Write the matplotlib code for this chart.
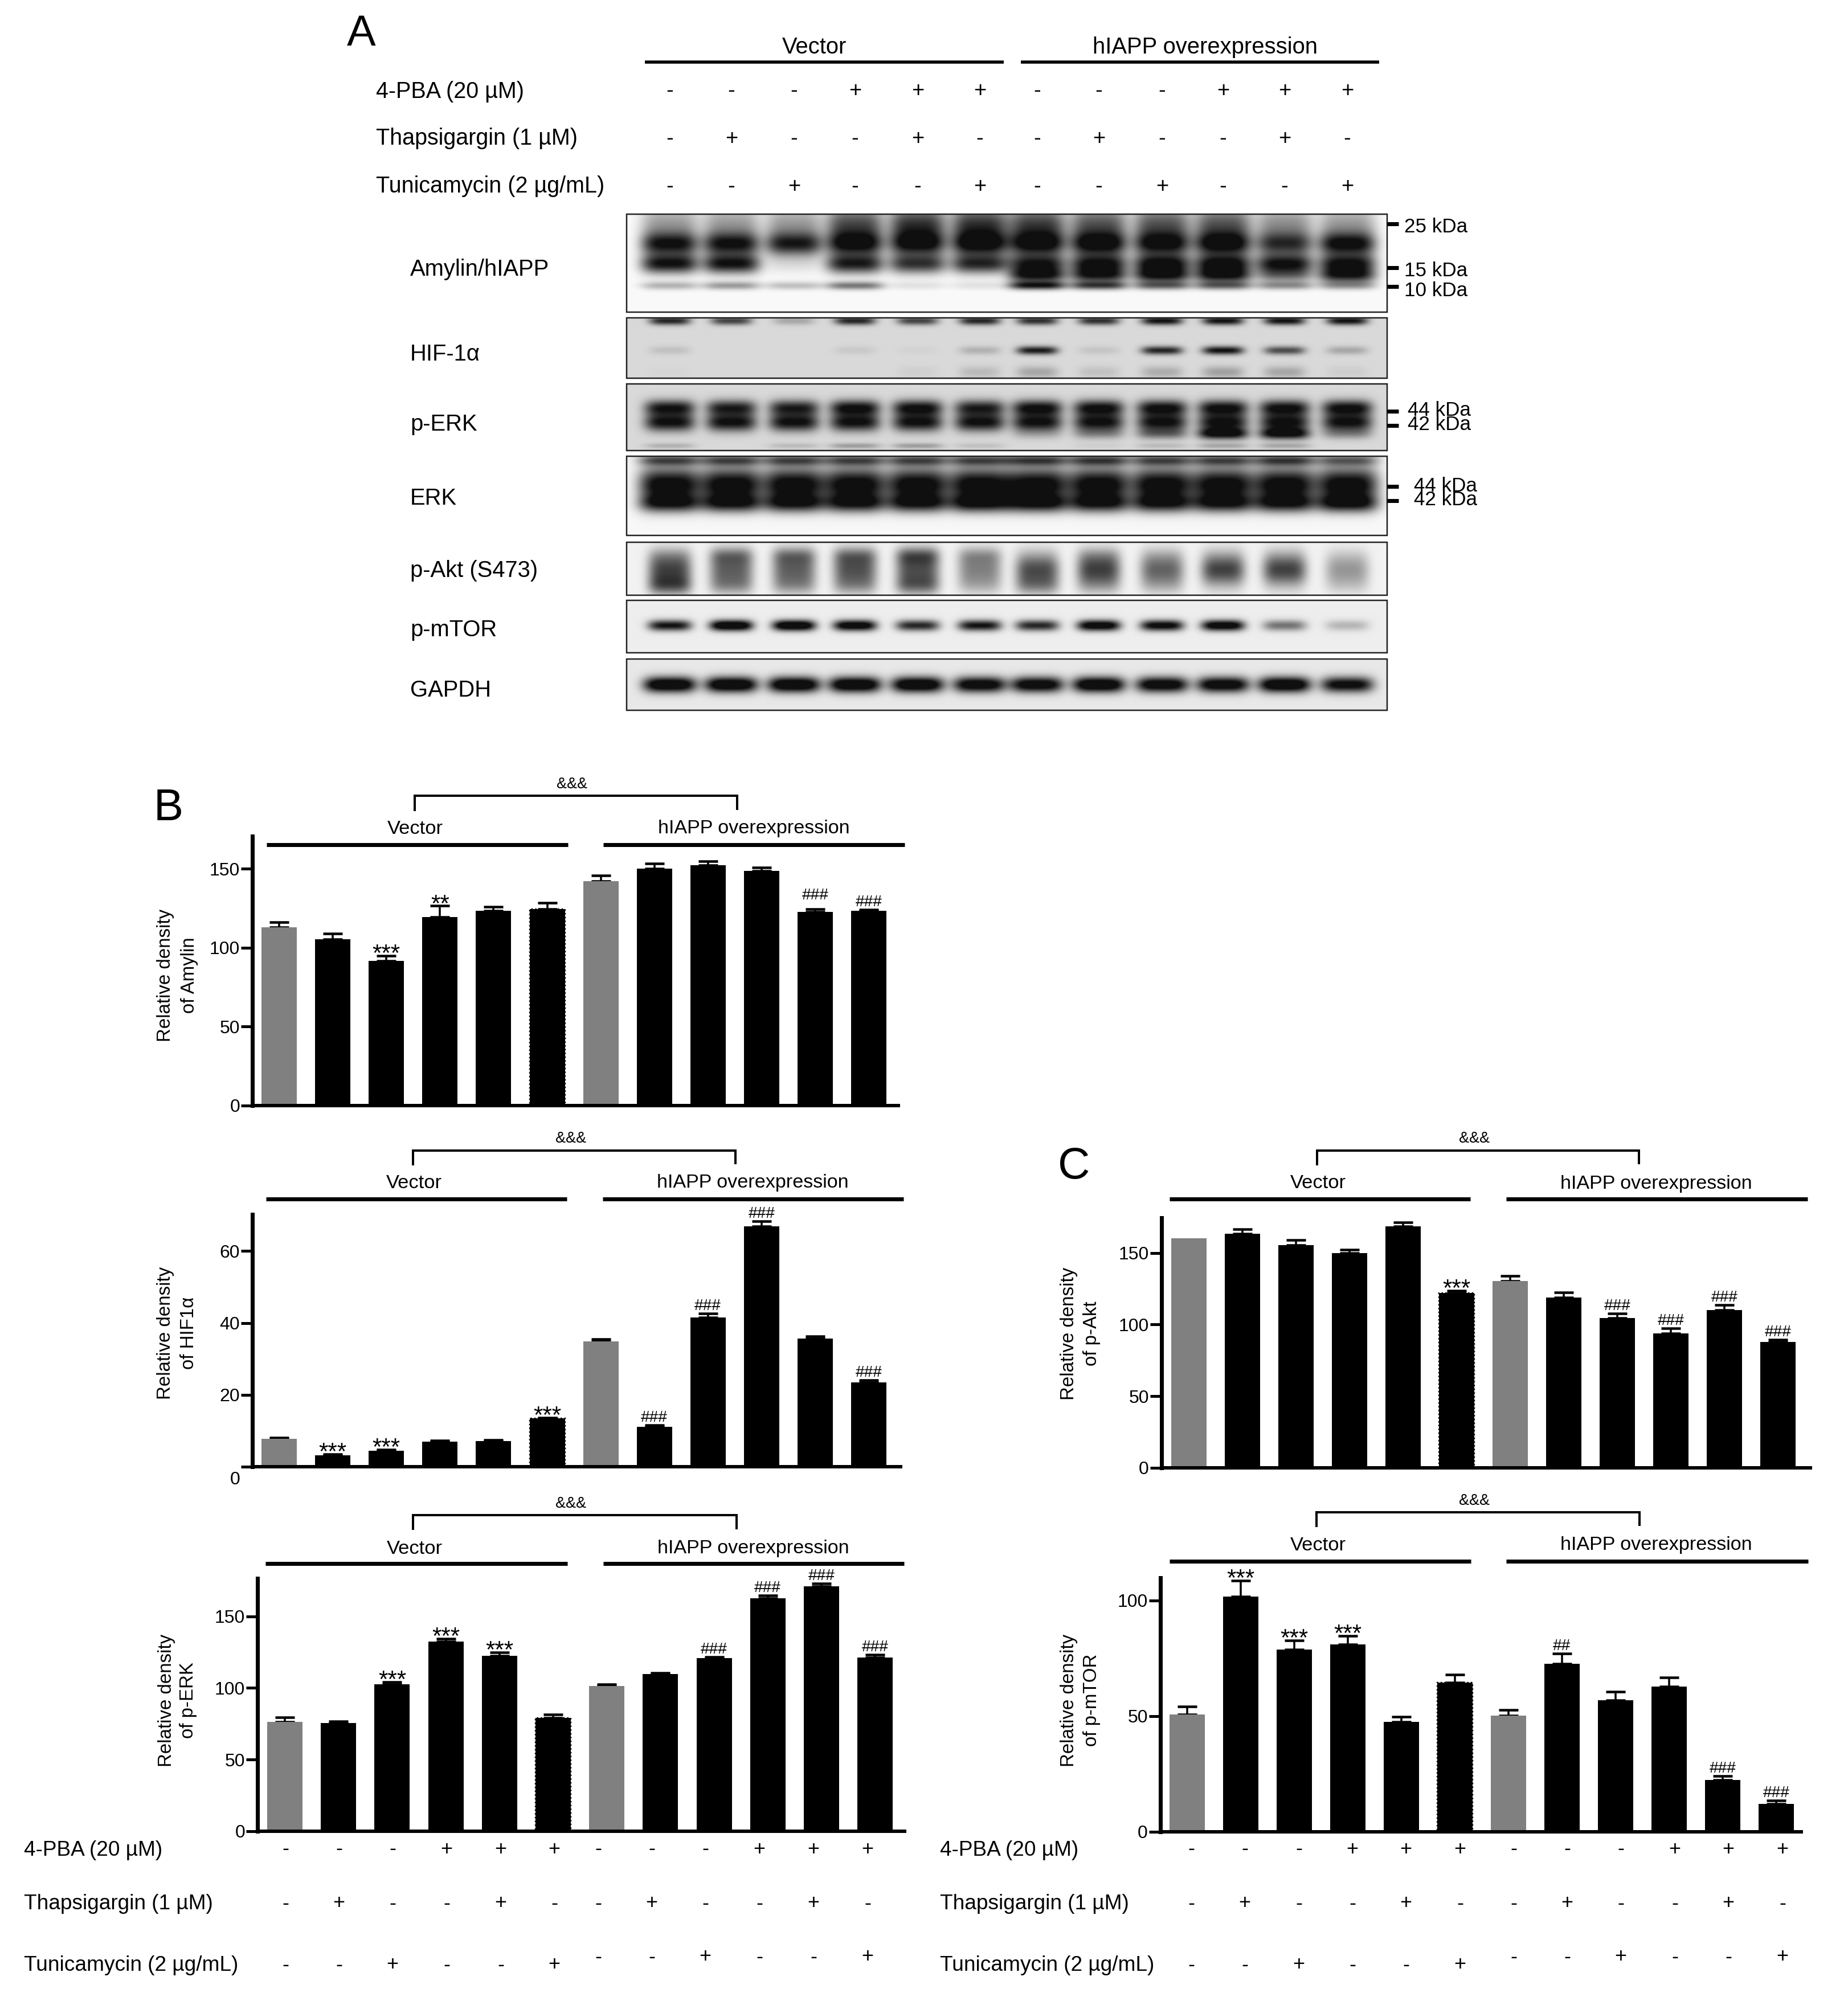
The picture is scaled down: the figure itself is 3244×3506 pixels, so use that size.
"""
Western blot panel plus relative density bar charts (panels A, B, C).
All layout numbers are pixels of the 3244x3506 output.
"""

import numpy as np
import matplotlib
matplotlib.use("Agg")
import matplotlib.pyplot as plt
from matplotlib.patches import Rectangle
from matplotlib.transforms import ScaledTranslation

plt.rcParams["font.family"] = ["Liberation Sans", "DejaVu Sans"]

W, H, DPI = 3244, 3506, 100
PT = 72 / DPI   # px -> points

GRAY = "#808080"

# treatment rows
PBA_ROW   = ["-", "-", "-", "+", "+", "+", "-", "-", "-", "+", "+", "+"]
THAPS_ROW = ["-", "+", "-", "-", "+", "-", "-", "+", "-", "-", "+", "-"]
TUNI_ROW  = ["-", "-", "+", "-", "-", "+", "-", "-", "+", "-", "-", "+"]

# bar heights, error bar tops, significance marks
AMYLIN_VALS = [112.9, 105.4, 91.7, 119.5, 123.4, 124.4, 142.2, 150.0, 152.2, 148.6, 122.6, 123.4]
AMYLIN_TOPS = [116.2, 108.9, 94.7, 126.4, 126.0, 128.5, 145.8, 153.4, 154.8, 150.9, 124.4, 124.1]
AMYLIN_MARKS = ["", "", "***", "**", "", "", "", "", "", "", "###", "###"]

HIF_VALS = [7.7, 3.1, 4.4, 7.0, 7.1, 13.4, 34.8, 11.1, 41.6, 66.9, 35.7, 23.5]
HIF_TOPS = [8.1, 3.5, 4.7, 7.3, 7.5, 13.7, 35.5, 11.5, 42.6, 68.3, 36.3, 24.1]
HIF_MARKS = ["", "***", "***", "", "", "***", "", "###", "###", "###", "", "###"]

PERK_VALS = [76.3, 75.4, 102.6, 132.3, 122.4, 79.0, 101.3, 109.6, 120.8, 162.6, 170.9, 121.3]
PERK_TOPS = [79.5, 76.8, 104.0, 134.3, 124.8, 81.5, 102.4, 110.5, 121.7, 164.6, 172.9, 123.3]
PERK_MARKS = ["", "", "***", "***", "***", "", "", "", "###", "###", "###", "###"]

PAKT_VALS = [160.2, 163.4, 155.5, 149.8, 168.6, 122.2, 130.4, 118.9, 104.5, 93.8, 110.2, 88.0]
PAKT_TOPS = [160.2, 166.6, 159.0, 152.3, 171.4, 123.7, 134.1, 122.6, 107.9, 97.5, 113.7, 89.6]
PAKT_MARKS = ["", "", "", "", "", "***", "", "", "###", "###", "###", "###"]

PMTOR_VALS = [50.7, 101.7, 78.8, 80.8, 47.5, 64.5, 50.1, 72.6, 56.8, 62.8, 22.3, 12.0]
PMTOR_TOPS = [54.0, 108.6, 82.7, 84.7, 49.6, 67.8, 52.6, 77.0, 60.4, 66.7, 24.0, 13.4]
PMTOR_MARKS = ["", "***", "***", "***", "", "", "", "##", "", "", "###", "###"]

# blot band strengths per lane, one list per band
AMY_SMEAR = [.40, .40, .40, .75, .85, .85, .80, .70, .70, .70, .45, .40]
AMY_BAND1 = [.85, .85, .80, .80, .75, .80, .80, .85, .80, .85, .70, .90]
AMY_BAND2 = [.95, .95, .10, .90, .80, .85, .90, .95, 1.0, 1.0, .95, .95]
AMY_BAND3 = [0, 0, 0, 0, 0, 0, .85, .80, .85, .85, .45, .80]
AMY_BAND4 = [.30, .40, .25, .55, .10, .10, .85, .70, .55, .55, .40, .35]
HIF_BAND1 = [.90, .75, .25, .90, .75, .90, .85, .85, 1, 1, 1, 1]
HIF_BAND2 = [.12, 0, 0, .08, .03, .20, .95, .10, .90, 1, .70, .25]
HIF_BAND3 = [.02, 0, 0, 0, .05, .15, .25, .12, .22, .28, .25, .06]
PERK_BAND1 = [.95, .90, .90, 1, 1, .90, 1, 1, 1, 1, 1, 1]
PERK_BAND2 = [1, 1, 1, 1, 1, 1, 1, 1, 1, 1, 1, 1]
PERK_BAND3 = [0, 0, 0, 0, 0, 0, .15, .30, .45, 1, 1, .30]
PERK_BAND4 = [.20, 0, .15, .30, .30, .12, 0, .05, .15, .25, .25, 0]
ERK_BAND1 = [.65, .65, .65, .65, .65, .65, .70, .70, .65, .65, .70, .55]
ERK_BAND2 = [1.1, 1.1, 1.1, 1.1, 1.1, 1.1, 1.1, 1.1, 1.1, 1.1, 1.1, 1.1]
ERK_BAND3 = [.75, .75, .75, .75, .75, .80, .80, .75, .75, .75, .75, .80]
AKT_BAND1 = [.75, .62, .62, .68, .68, .48, .72, .78, .62, .78, .78, .40]
AKT_BAND2 = [.15, .35, .35, .35, .45, .25, .03, .15, .08, .03, .03, .03]
AKT_BAND3 = [.50, .28, .25, .25, .42, .15, .30, .15, .12, 0, 0, .08]
MTOR_BAND = [1.0, 1.3, 1.3, 1.2, .90, 1.0, .90, 1.2, 1.1, 1.2, .55, .25]
GAPDH_BAND = [1.3, 1.3, 1.3, 1.3, 1.3, 1.2, 1.2, 1.3, 1.2, 1.2, 1.3, 1.1]

# lane centres, px
LANES_A = [1176, 1284, 1394, 1501, 1611, 1720, 1821, 1929, 2040, 2147, 2255, 2365]
LANES_B = [501, 595, 689, 784, 879, 973, 1050, 1144, 1238, 1333, 1428, 1523]
LANES_C = [2091, 2185, 2280, 2374, 2468, 2563, 2657, 2751, 2845, 2940, 3034, 3129]

# x, y0, y1, background, lane half width, bands (strength, y fraction, y sigma)
BLOTS = [
    ("Amylin/hIAPP", 471, 376, 548, .98, 50, [(AMY_SMEAR, .12, .15), (AMY_BAND1, .31, .085), (AMY_BAND2, .51, .07),
                                              (AMY_BAND3, .63, .055), (AMY_BAND4, .73, .03)]),
    ("HIF-1α", 620, 558, 664, .85, 36, [(HIF_BAND1, .05, .05), (HIF_BAND2, .54, .05), (HIF_BAND3, .90, .07)]),
    ("p-ERK", 743, 674, 791, .85, 44, [(PERK_BAND1, .36, .085), (PERK_BAND2, .58, .095), (PERK_BAND3, .75, .06),
                                       (PERK_BAND4, .93, .03)]),
    ("ERK", 873, 801, 940, .97, 54, [(ERK_BAND1, .05, .05), (ERK_BAND2, .36, .16), (ERK_BAND3, .60, .08)]),
    ("p-Akt (S473)", 1000, 952, 1045, .95, 38, [(AKT_BAND1, .52, .22), (AKT_BAND2, .25, .12), (AKT_BAND3, .82, .13)]),
    ("p-mTOR", 1104, 1054, 1146, .93, 38, [(MTOR_BAND, .48, .075)]),
    ("GAPDH", 1210, 1157, 1247, .91, 46, [(GAPDH_BAND, .50, .11)]),
]

# bar panels: ax left/right/top/zero, tick step px info, bar centres
PANELS = [
    dict(vals=AMYLIN_VALS, tops=AMYLIN_TOPS, marks=AMYLIN_MARKS, name="of Amylin", ticks=[0, 50, 100, 150],
         left=443, right=1577, top=1468, zero=1941, unit=2.773, c0=490, step=94.1,
         lab_x=(291, 332), lab_y=1712, bracket=(728, 1294, 1397, 1424, 1422), amp=(1004, 1377),
         vec=(729, 1455), oe=(1323, 1455), line_y=1483, l1=(468, 997), l2=(1059, 1588), extra={10: 11}),
    dict(vals=HIF_VALS, tops=HIF_TOPS, marks=HIF_MARKS, name="of HIF1α", ticks=[0, 20, 40, 60],
         left=443, right=1581, top=2132, zero=2575, unit=6.31, c0=490, step=94.1,
         lab_x=(291, 332), lab_y=2340, bracket=(725, 1291, 2020, 2046, 2044), amp=(1002, 1999),
         vec=(727, 2077), oe=(1321, 2077), line_y=2105, l1=(467, 995), l2=(1058, 1586), zero_shift=20),
    dict(vals=PERK_VALS, tops=PERK_TOPS, marks=PERK_MARKS, name="of p-ERK", ticks=[0, 50, 100, 150],
         left=452, right=1588, top=2771, zero=3215, unit=2.516, c0=500, step=94.2,
         lab_x=(292, 331), lab_y=2985, bracket=(725, 1293, 2660, 2686, 2685), amp=(1002, 2640),
         vec=(728, 2719), oe=(1322, 2719), line_y=2745, l1=(466, 996), l2=(1059, 1587)),
    dict(vals=PAKT_VALS, tops=PAKT_TOPS, marks=PAKT_MARKS, name="of p-Akt", ticks=[0, 50, 100, 150],
         left=2039, right=3178, top=2138, zero=2577, unit=2.516, c0=2086.5, step=94.05,
         lab_x=(1877, 1916), lab_y=2341, bracket=(2312, 2877, 2020, 2046, 2044), amp=(2588, 1999),
         vec=(2314, 2077), oe=(2907, 2078), line_y=2105, l1=(2053, 2581), l2=(2644, 3173)),
    dict(vals=PMTOR_VALS, tops=PMTOR_TOPS, marks=PMTOR_MARKS, name="of p-mTOR", ticks=[0, 50, 100],
         left=2037, right=3162, top=2770, zero=3215.5, unit=4.06, c0=2083.5, step=94.05,
         lab_x=(1877, 1916), lab_y=2985, bracket=(2311, 2878, 2655, 2681, 2679), amp=(2588, 2635),
         vec=(2314, 2713), oe=(2907, 2713), line_y=2741, l1=(2053, 2582), l2=(2644, 3174)),
]

fig = plt.figure(figsize=(W / DPI, H / DPI), dpi=DPI, facecolor="white")
over = fig.add_axes([0, 0, 1, 1], zorder=5)
over.patch.set_alpha(0)
over.axis("off")


def put(x, y, s, px=33, **kw):
    kw.setdefault("ha", "center")
    kw.setdefault("va", "center")
    over.text(x, y, s, fontsize=px * PT, color="black", **kw)


def hline(x0, x1, y, px):
    over.plot([x0, x1], [y, y], color="black", lw=px * PT, solid_capstyle="butt")


def vline(x, y0, y1, px):
    over.plot([x, x], [y0, y1], color="black", lw=px * PT, solid_capstyle="butt")


def draw_bars(p):
    ax = fig.add_axes([p["left"] / W, 1 - p["zero"] / H,
                       (p["right"] - p["left"]) / W, (p["zero"] - p["top"]) / H])
    vals = np.array(p["vals"])
    tops = np.array(p["tops"])
    xs = np.arange(12)
    width = 62 / p["step"]

    has_err = tops > vals
    ax.errorbar(xs[has_err], vals[has_err], yerr=[np.zeros(has_err.sum()), (tops - vals)[has_err]], fmt="none",
                ecolor="black", elinewidth=3.5 * PT, capsize=17 * PT, capthick=4.5 * PT, zorder=1)
    colors = [GRAY if i in (0, 6) else "black" for i in xs]
    ax.bar(xs, vals, width=width, color=colors, zorder=2)
    ax.bar(xs[5], vals[5], width=width, color="black", edgecolor="black", linewidth=2.5 * PT, linestyle=":", zorder=2)

    for i, mark in enumerate(p["marks"]):
        if not mark:
            continue
        # asterisks sit high in their em box, so their baseline is below the cap
        off = -9 if mark[0] == "*" else 6
        off += p.get("extra", {}).get(i, 0)
        ax.annotate(mark, (xs[i], tops[i]), xytext=(0, off * PT), textcoords="offset points",
                    ha="center", va="baseline", fontsize=(42 if mark[0] == "*" else 28) * PT)

    ax.set_xlim((p["left"] - p["c0"]) / p["step"], (p["right"] - p["c0"]) / p["step"])
    ax.set_ylim(0, (p["zero"] - p["top"]) / p["unit"])
    ax.set_xticks([])
    ax.set_yticks(p["ticks"])
    ax.tick_params(axis="y", length=20 * PT, width=5 * PT, pad=2 * PT, labelsize=32 * PT)
    for side in ("top", "right"):
        ax.spines[side].set_visible(False)
    ax.spines["left"].set_linewidth(7 * PT)
    ax.spines["bottom"].set_linewidth(6 * PT)
    ax.patch.set_alpha(0)

    if "zero_shift" in p:
        lab = ax.get_yticklabels()[0]
        lab.set_transform(lab.get_transform() + ScaledTranslation(0, -p["zero_shift"] / DPI, fig.dpi_scale_trans))

    put(p["lab_x"][0], p["lab_y"], "Relative density", rotation=90)
    put(p["lab_x"][1], p["lab_y"], p["name"], rotation=90)

    xl, xr, yt, dl, dr = p["bracket"]
    hline(xl - 2, xr + 2, yt, 4)
    vline(xl, yt, dl, 4)
    vline(xr, yt, dr, 4)
    put(p["amp"][0], p["amp"][1], "&&&", px=27)
    put(p["vec"][0], p["vec"][1], "Vector", px=34.5)
    put(p["oe"][0], p["oe"][1], "hIAPP overexpression", px=34.2)
    hline(p["l1"][0], p["l1"][1], p["line_y"], 7)
    hline(p["l2"][0], p["l2"][1], p["line_y"], 7)


def draw_blot(label, lab_y, y0, y1, bg, half, bands):
    x0, x1 = 1100, 2435
    xx = np.arange(x0, x1) + .5
    yy = (np.arange(y0, y1) + .5 - y0) / (y1 - y0)
    dens = np.zeros((len(yy), len(xx)))
    for strength, yc, ys in bands:
        row = np.exp(-((yy - yc) / (ys * 1.4)) ** 2)
        col = np.zeros_like(xx)
        for lane, s in zip(LANES_A, strength):
            col += s * np.exp(-((xx - lane) / half) ** 4)
        dens += np.outer(row, col)
    img = bg - (bg - .06) * np.clip(dens, 0, 1)
    over.imshow(img, extent=(x0, x1, y1, y0), cmap="gray", vmin=0, vmax=1, aspect="auto", interpolation="bilinear")
    over.add_patch(Rectangle((x0, y0), x1 - x0, y1 - y0, fill=False, edgecolor="#222222", lw=2.5 * PT))
    put(720, lab_y + 2, label, px=40, ha="left")


def draw_rows(xs, ys, px):
    for row, y in zip((PBA_ROW, THAPS_ROW, TUNI_ROW), ys):
        for i, (x, s) in enumerate(zip(xs, row)):
            put(x, y[i], s, px=px)


for blot in BLOTS:
    draw_blot(*blot)
for panel in PANELS:
    draw_bars(panel)

# panel A header
put(634, 60, "A", px=76)
put(1430, 83, "Vector", px=40)
put(2115, 83, "hIAPP overexpression", px=40)
hline(1132, 1762, 109, 5.5)
hline(1792, 2421, 109, 5.5)
for y, s in ((161, "4-PBA (20 µM)"), (243, "Thapsigargin (1 µM)"), (327, "Tunicamycin (2 µg/mL)")):
    put(660, y, s, px=39.5, ha="left")
draw_rows(LANES_A, [[160] * 12, [244] * 12, [328] * 12], 38)

# size markers next to the blots
for tick_y, text_y, text_x, s in ((393, 398, 2465, "25 kDa"), (470, 475, 2465, "15 kDa"), (503, 510, 2465, "10 kDa"),
                                  (722, 720, 2471, "44 kDa"), (747, 745, 2471, "42 kDa"),
                                  (854, 853, 2482, "44 kDa"), (879, 877, 2482, "42 kDa")):
    hline(2435, 2455, tick_y, 7)
    put(text_x, text_y, s, px=35, ha="left")

# panel letters
put(296, 1420, "B", px=78)
put(1885, 2049, "C", px=78)

# treatment rows below the bars
ROW_Y = [[3247] * 12, [3342] * 12, [3450] * 6 + [3436] * 6]
for left, lanes in ((42, LANES_B), (1650, LANES_C)):
    for y, s in ((3249, "4-PBA (20 µM)"), (3343, "Thapsigargin (1 µM)"), (3450, "Tunicamycin (2 µg/mL)")):
        put(left, y, s, px=37, ha="left")
    draw_rows(lanes, ROW_Y, 36)

over.set_xlim(0, W)
over.set_ylim(H, 0)

fig.savefig("out.png", dpi=DPI)
